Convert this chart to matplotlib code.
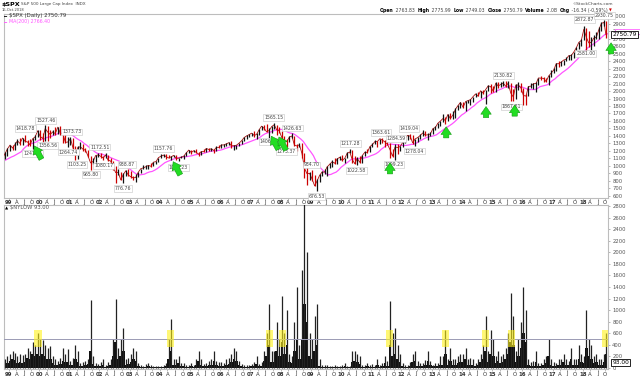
import numpy as np
import pandas as pd
import matplotlib
matplotlib.use("Agg")
import matplotlib.pyplot as plt
import matplotlib.dates as mdates
from matplotlib.patches import Rectangle

# ---------------- data ----------------
months = pd.date_range("1998-01-01", "2018-10-01", freq="MS")

spx_high = [992, 1050, 1105, 1123, 1122, 1145, 1190, 1121, 1066, 1103, 1192, 1244,
            1280, 1283, 1316, 1362, 1375, 1376, 1419, 1353, 1361, 1373, 1410, 1474,
            1479, 1445, 1553, 1528, 1481, 1475, 1517, 1525, 1530, 1437, 1437, 1390,
            1384, 1377, 1263, 1269, 1316, 1287, 1236, 1217, 1134, 1110, 1145, 1174,
            1176, 1131, 1173, 1147, 1107, 1070, 994, 966, 924, 907, 943, 954,
            935, 864, 895, 924, 965, 1015, 1015, 1011, 1040, 1053, 1064, 1112,
            1158, 1158, 1163, 1150, 1128, 1147, 1141, 1109, 1131, 1143, 1188, 1218,
            1218, 1212, 1229, 1192, 1199, 1220, 1246, 1245, 1243, 1233, 1270, 1276,
            1295, 1297, 1310, 1318, 1327, 1284, 1283, 1306, 1340, 1389, 1407, 1432,
            1441, 1462, 1438, 1498, 1535, 1540, 1556, 1504, 1538, 1576, 1545, 1524,
            1471, 1396, 1359, 1397, 1440, 1404, 1292, 1313, 1303, 1167, 1007, 919,
            944, 876, 832, 888, 930, 957, 996, 1039, 1080, 1101, 1113, 1130,
            1150, 1112, 1180, 1220, 1209, 1132, 1120, 1130, 1148, 1196, 1228, 1263,
            1303, 1344, 1332, 1364, 1371, 1346, 1357, 1307, 1230, 1293, 1292, 1270,
            1333, 1378, 1419, 1422, 1415, 1363, 1392, 1426, 1475, 1470, 1434, 1448,
            1504, 1530, 1570, 1598, 1687, 1654, 1698, 1709, 1730, 1768, 1814, 1849,
            1851, 1867, 1884, 1897, 1925, 1968, 1992, 2005, 2019, 2019, 2076, 2093,
            2072, 2120, 2118, 2126, 2135, 2130, 2133, 2113, 2021, 2094, 2117, 2104,
            2038, 1962, 2072, 2111, 2103, 2120, 2178, 2194, 2187, 2169, 2214, 2278,
            2301, 2371, 2401, 2398, 2418, 2454, 2484, 2491, 2520, 2582, 2657, 2695,
            2873, 2836, 2801, 2718, 2742, 2791, 2848, 2917, 2941, 2940]
spx_low = [912, 969, 1032, 1076, 1074, 1074, 1114, 940, 939, 923, 1093, 1137,
           1205, 1212, 1218, 1282, 1281, 1280, 1325, 1268, 1263, 1233, 1343, 1387,
           1350, 1325, 1339, 1339, 1373, 1415, 1416, 1431, 1419, 1306, 1307, 1254,
           1275, 1228, 1081, 1091, 1232, 1203, 1183, 1124, 945, 1026, 1054, 1114,
           1101, 1074, 1106, 1064, 1048, 952, 776, 875, 815, 769, 872, 872,
           840, 807, 789, 847, 902, 962, 962, 960, 990, 996, 1031, 1053,
           1108, 1124, 1087, 1107, 1076, 1114, 1079, 1060, 1101, 1091, 1127, 1173,
           1163, 1180, 1176, 1137, 1146, 1188, 1183, 1201, 1205, 1168, 1202, 1246,
           1245, 1253, 1268, 1280, 1245, 1219, 1224, 1262, 1290, 1327, 1360, 1385,
           1403, 1389, 1364, 1416, 1476, 1484, 1452, 1371, 1439, 1489, 1407, 1435,
           1271, 1317, 1257, 1324, 1373, 1272, 1200, 1247, 1107, 840, 741, 818,
           805, 735, 667, 784, 866, 888, 869, 979, 992, 1020, 1029, 1086,
           1071, 1045, 1102, 1171, 1040, 1028, 1011, 1040, 1040, 1132, 1173, 1187,
           1257, 1290, 1249, 1295, 1311, 1259, 1282, 1101, 1114, 1075, 1159, 1202,
           1258, 1311, 1341, 1358, 1292, 1267, 1325, 1354, 1397, 1403, 1343, 1398,
           1426, 1485, 1501, 1536, 1581, 1560, 1604, 1627, 1633, 1646, 1746, 1768,
           1770, 1738, 1834, 1815, 1860, 1915, 1930, 1905, 1964, 1821, 2001, 1973,
           1988, 1981, 2039, 2048, 2067, 2056, 2044, 1867, 1871, 1893, 2019, 1993,
           1812, 1810, 1937, 2034, 2025, 1992, 2075, 2148, 2119, 2114, 2084, 2187,
           2245, 2271, 2323, 2328, 2353, 2406, 2407, 2417, 2446, 2520, 2557, 2605,
           2682, 2533, 2586, 2553, 2594, 2698, 2698, 2796, 2864, 2710]
spx_close = [980, 1049, 1101, 1111, 1090, 1133, 1120, 957, 1017, 1098, 1163, 1229,
             1279, 1238, 1286, 1335, 1301, 1373, 1329, 1320, 1283, 1362, 1389, 1469,
             1394, 1366, 1499, 1452, 1421, 1455, 1431, 1518, 1437, 1429, 1315, 1320,
             1366, 1240, 1160, 1249, 1256, 1224, 1211, 1134, 1041, 1060, 1139, 1148,
             1130, 1107, 1147, 1077, 1067, 990, 912, 916, 815, 886, 936, 880,
             856, 841, 848, 917, 964, 975, 990, 1008, 996, 1051, 1058, 1112,
             1131, 1145, 1126, 1107, 1121, 1141, 1102, 1104, 1115, 1130, 1174, 1212,
             1181, 1204, 1181, 1157, 1192, 1191, 1234, 1220, 1229, 1207, 1249, 1248,
             1280, 1281, 1295, 1311, 1270, 1270, 1277, 1304, 1336, 1378, 1401, 1418,
             1438, 1407, 1421, 1482, 1531, 1503, 1455, 1474, 1527, 1549, 1481, 1468,
             1379, 1331, 1323, 1386, 1400, 1280, 1267, 1283, 1165, 969, 896, 903,
             826, 735, 798, 873, 919, 919, 987, 1021, 1057, 1036, 1096, 1115,
             1074, 1104, 1169, 1187, 1089, 1031, 1102, 1049, 1141, 1183, 1181, 1258,
             1286, 1327, 1326, 1364, 1345, 1321, 1292, 1219, 1131, 1253, 1247, 1258,
             1312, 1366, 1408, 1398, 1310, 1362, 1379, 1407, 1441, 1412, 1416, 1426,
             1498, 1515, 1569, 1598, 1631, 1606, 1686, 1633, 1682, 1757, 1806, 1848,
             1783, 1859, 1872, 1884, 1924, 1960, 1931, 2003, 1972, 2018, 2068, 2059,
             1995, 2104, 2068, 2086, 2107, 2063, 2104, 1972, 1920, 2079, 2080, 2044,
             1940, 1932, 2060, 2065, 2097, 2099, 2174, 2171, 2168, 2126, 2199, 2239,
             2279, 2364, 2363, 2384, 2412, 2423, 2470, 2472, 2519, 2575, 2648, 2674,
             2824, 2714, 2641, 2648, 2705, 2718, 2816, 2902, 2914, 2751]

# swing labels (closing values)
label_dates = ["1999-07-16", "1999-10-15", "2000-03-24", "2000-04-14", "2001-01-30",
               "2000-12-20", "2001-04-04", "2002-01-04", "2001-09-21", "2002-02-21",
               "2002-12-02", "2002-10-09", "2004-02-11", "2004-08-12", "2007-10-09",
               "2007-08-15", "2008-05-19", "2008-03-10", "2009-01-06", "2009-03-09",
               "2010-04-23", "2010-07-02", "2011-04-29", "2011-10-27", "2011-10-03",
               "2012-04-02", "2012-06-04", "2015-05-21", "2015-08-25", "2018-01-26",
               "2018-02-08", "2018-09-20"]
label_values = [1418.78, 1247.41, 1527.46, 1356.56, 1373.73,
                1264.74, 1103.25, 1172.51, 965.80, 1080.17,
                938.87, 776.76, 1157.76, 1063.23, 1565.15,
                1406.70, 1426.63, 1273.37, 934.70, 676.53,
                1217.28, 1022.58, 1363.61, 1284.59, 1099.23,
                1419.04, 1278.04, 2130.82, 1867.61, 2872.87,
                2581.00, 2930.75]
label_is_high = [1, 0, 1, 0, 1,
                 0, 0, 1, 0, 0,
                 1, 0, 1, 0, 1,
                 0, 1, 0, 1, 0,
                 1, 0, 1, 1, 0,
                 1, 0, 1, 0, 1,
                 0, 1]

# green signal arrows (date, price the arrow points at)
arrow_dates = ["1999-10-20", "2004-05-25", "2007-08-25", "2007-11-25", "2011-08-15",
               "2013-06-25", "2014-10-20", "2015-10-01", "2018-12-10"]
arrow_prices = [1300, 1090, 1430, 1420, 1080, 1560, 1830, 1850, 2680]

# NYSE new 52-week lows, monthly typical level and monthly peak
nylow_months = pd.date_range("1998-11-01", "2018-10-01", freq="MS")
nylow_base = [60, 80,
              120, 150, 140, 90, 100, 90, 100, 180, 150, 250, 200, 250,
              200, 250, 200, 150, 150, 80, 60, 50, 70, 120, 100, 110,
              50, 60, 150, 100, 30, 40, 50, 70, 300, 70, 30, 30,
              40, 60, 20, 40, 60, 200, 450, 150, 200, 300, 50, 70,
              100, 160, 120, 30, 20, 15, 25, 30, 20, 15, 15, 10,
              15, 20, 30, 150, 300, 60, 60, 80, 30, 30, 20, 20,
              30, 20, 60, 120, 60, 30, 30, 50, 60, 120, 50, 40,
              40, 30, 60, 70, 100, 150, 120, 50, 30, 20, 20, 20,
              30, 30, 70, 30, 40, 120, 200, 400, 100, 100, 300, 200,
              450, 250, 400, 100, 80, 300, 500, 150, 500, 1100, 800, 200,
              150, 300, 400, 40, 20, 20, 20, 15, 10, 20, 15, 15,
              20, 30, 10, 10, 100, 120, 100, 70, 20, 15, 30, 20,
              25, 20, 50, 20, 30, 80, 40, 400, 200, 250, 150, 100,
              30, 20, 20, 40, 100, 120, 40, 30, 30, 50, 120, 50,
              30, 30, 30, 60, 60, 250, 50, 120, 60, 50, 80, 100,
              100, 150, 50, 60, 60, 30, 60, 100, 150, 300, 100, 250,
              200, 80, 120, 80, 100, 150, 250, 450, 400, 100, 200, 350,
              600, 450, 50, 30, 40, 100, 30, 30, 50, 80, 200, 60,
              40, 30, 60, 50, 100, 60, 50, 150, 60, 60, 150, 100,
              80, 350, 200, 150, 80, 100, 60, 60, 100, 250]
nylow_peak = [150, 200,
              250, 300, 260, 200, 250, 220, 250, 350, 300, 450, 400, 600,
              500, 480, 400, 350, 380, 200, 150, 120, 170, 350, 250, 320,
              120, 180, 400, 300, 80, 100, 120, 160, 1170, 200, 80, 70,
              100, 150, 60, 100, 150, 500, 1200, 350, 500, 700, 150, 170,
              250, 350, 300, 80, 50, 40, 70, 80, 50, 40, 40, 30,
              40, 50, 80, 500, 850, 150, 150, 200, 80, 80, 50, 50,
              80, 60, 150, 300, 150, 70, 80, 120, 150, 300, 120, 100,
              100, 80, 150, 180, 250, 350, 300, 120, 70, 50, 50, 50,
              70, 100, 200, 70, 100, 300, 600, 1100, 300, 300, 800, 500,
              1250, 600, 1000, 250, 200, 800, 1400, 400, 1700, 2950, 2000, 600,
              500, 900, 1100, 150, 60, 60, 60, 40, 30, 50, 40, 40,
              60, 80, 30, 30, 300, 300, 250, 200, 60, 50, 80, 60,
              70, 60, 150, 50, 80, 200, 120, 1150, 600, 700, 400, 250,
              80, 60, 50, 100, 250, 300, 120, 80, 80, 130, 300, 120,
              60, 80, 80, 200, 200, 650, 150, 350, 150, 150, 200, 250,
              250, 350, 150, 180, 150, 80, 150, 250, 400, 900, 300, 650,
              500, 200, 300, 200, 250, 350, 600, 1300, 900, 300, 500, 800,
              1400, 1000, 150, 100, 120, 300, 80, 80, 150, 200, 500, 150,
              100, 80, 150, 150, 250, 150, 120, 350, 150, 150, 400, 250,
              200, 1000, 500, 400, 200, 250, 150, 150, 250, 600]
nylow_last = 93.00
nylow_threshold = 500

# highlighted new-low episodes
box_dates = ["1999-12-20", "2004-05-10", "2007-08-16", "2008-01-22", "2011-08-08",
             "2013-06-20", "2014-10-15", "2015-08-24", "2018-10-11"]

x_tick_dates = pd.date_range("1999-01-01", "2018-10-01", freq="QS")
price_ticks = list(range(600, 3001, 100))
nylow_ticks = list(range(0, 2801, 200))

last_close = 2750.79
last_ma = 2766.40

# ---------------- figure ----------------
W, H = 640, 380
fig = plt.figure(figsize=(6.4, 3.8), dpi=100)
fig.patch.set_facecolor("white")

def fx(px):
    return px / W

def fy(py):
    return 1 - py / H

ax1 = fig.add_axes([fx(4), fy(198), fx(604), 184 / H])
ax2 = fig.add_axes([fx(4), fy(369), fx(604), 164 / H])

xmin = pd.Timestamp("1998-11-03")
xmax = pd.Timestamp("2018-11-03")

grey = "#bdbdbd"
for ax in (ax1, ax2):
    ax.set_xlim(xmin, xmax)
    for s in ax.spines.values():
        s.set_color(grey)
        s.set_linewidth(0.8)
    ax.yaxis.tick_right()
    ax.tick_params(axis="y", length=1.5, width=0.5, colors="#999999",
                   labelsize=3.8, pad=1.5, labelcolor="#555555")
    ax.tick_params(axis="x", length=1.2, width=0.5, colors="#999999",
                   labelsize=3.9, pad=0.6, labelcolor="#333333")
    ax.set_xticks(x_tick_dates)
    labs = []
    for d in x_tick_dates:
        if d.month == 1:
            labs.append(d.strftime("%y"))
        else:
            labs.append({4: "A", 7: "J", 10: "O"}[d.month])
    ax.set_xticklabels(labs)
    for t, d in zip(ax.get_xticklabels(), x_tick_dates):
        if d.month == 1:
            t.set_fontweight("bold")

# ---- price panel ----
mid = months + pd.Timedelta(days=14)
mid = mid.where(months != months[-1], months[-1] + pd.Timedelta(days=8))
close = np.array(spx_close, dtype=float)
up = np.r_[True, np.diff(close) >= 0]
cols = np.where(up, "#111111", "#cc0000")
ax1.plot(mid, close, color="#aa1111", lw=0.6, zorder=3)
ax1.vlines(mid, spx_low, spx_high, colors=cols, lw=0.9, zorder=4)
ma = pd.Series(close).rolling(10).mean()
ax1.plot(months + pd.offsets.MonthEnd(0), ma, color="#ff55ff", lw=0.9, zorder=2)

ax1.set_ylim(573.3, 3026.7)
ax1.set_yticks(price_ticks)
ax1.set_yticklabels([str(v) for v in price_ticks])

for d, v, hi in zip(label_dates, label_values, label_is_high):
    ax1.annotate(f"{v:.2f}", (pd.Timestamp(d), v), xytext=(0, 2.5 if hi else -2.5),
                 textcoords="offset points", ha="center",
                 va="bottom" if hi else "top", fontsize=3.3, color="#444444",
                 bbox=dict(boxstyle="square,pad=0.18", fc="white", ec="#c4c4c4", lw=0.4),
                 zorder=6)

tilted = [True, True, True, True, False, False, False, False, False]
for d, p, t in zip(arrow_dates, arrow_prices, tilted):
    off = (7, -13) if t else (0, -12)
    ax1.annotate("", (pd.Timestamp(d), p), xytext=off, textcoords="offset points",
                 arrowprops=dict(arrowstyle="simple,head_length=0.55,head_width=0.75,tail_width=0.38",
                                 fc="#22dd22", ec="#119911", lw=0.4),
                 zorder=7, annotation_clip=False)

# last value boxes (MA box drawn as an outline behind the price box)
ytr = ax1.get_yaxis_transform()
ax1.add_patch(Rectangle((1.012, last_ma - 10), 0.042, 70, transform=ytr,
                        fc="white", ec="#ff66ff", lw=0.6, zorder=8, clip_on=False))
ax1.text(1.007, last_close, f"{last_close:.2f}", transform=ytr,
         fontsize=4.2, va="center", ha="left", color="black", zorder=9, clip_on=False,
         bbox=dict(boxstyle="square,pad=0.2", fc="white", ec="black", lw=0.6))

# ---- new lows panel ----
nmid = nylow_months + pd.Timedelta(days=14)
ax2.fill_between(nmid, 0, nylow_base, step="mid", color="#111111", lw=0, zorder=2)
ax2.vlines(nmid, 0, nylow_peak, colors="#222222", lw=0.9, zorder=3)
ax2.axhline(nylow_threshold, color="#9a9ab4", lw=0.7, zorder=4)
for d in box_dates:
    c = pd.Timestamp(d)
    x0 = mdates.date2num(c - pd.Timedelta(days=45))
    x1 = mdates.date2num(c + pd.Timedelta(days=45))
    ax2.add_patch(Rectangle((x0, 360), x1 - x0, 300, fc=(1, 0.95, 0.1, 0.6),
                            ec="none", zorder=5))
ax2.set_ylim(-17, 2817)
ax2.set_yticks(nylow_ticks)
ax2.set_yticklabels([str(v) for v in nylow_ticks])
ax2.text(1.007, nylow_last, f"{nylow_last:.2f}", transform=ax2.get_yaxis_transform(),
         fontsize=4.2, va="center", ha="left", color="black", zorder=9, clip_on=False,
         bbox=dict(boxstyle="square,pad=0.2", fc="white", ec="black", lw=0.6))

# ---- header texts ----
fig.text(fx(2), fy(4.5), "$SPX", fontsize=4.6, fontweight="bold", va="center", ha="left")
fig.text(fx(21), fy(4.5), "S&P 500 Large Cap Index  INDX", fontsize=3.0, va="center",
         ha="left", color="#444444")
fig.text(fx(2), fy(10), "16-Oct-2018", fontsize=2.6, va="center", ha="left", color="#444444")
fig.text(fx(4), fy(16), "━", fontsize=3.6, va="center", ha="left", color="black")
fig.text(fx(9), fy(16), "$SPX (Daily) 2750.79", fontsize=3.9, va="center", ha="left",
         color="#333333")
fig.text(fx(4), fy(22), "━", fontsize=3.6, va="center", ha="left", color="#ff55ff")
fig.text(fx(9), fy(22), "MA(200) 2766.40", fontsize=3.4, va="center", ha="left",
         color="#ff55ff")
fig.text(fx(613), fy(4), "©StockCharts.com", fontsize=3.1, va="center", ha="right",
         color="#444444")

# quote line built right-to-left
renderer = fig.canvas.get_renderer()
parts = [("Open", True), (" 2763.83  ", False), ("High", True), (" 2775.99  ", False),
         ("Low", True), (" 2749.03  ", False), ("Close", True), (" 2750.79  ", False),
         ("Volume", True), (" 2.0B  ", False), ("Chg", True), (" -16.34 (-0.59%) ", False),
         ("▼", False)]
xcur = 612
for txt, bold in reversed(parts):
    col = "#cc0000" if txt == "▼" else ("black" if bold else "#444444")
    t = fig.text(fx(xcur), fy(10.5), txt, fontsize=3.3 if txt != "▼" else 2.6,
                 fontweight="bold" if bold else "normal", va="center", ha="right", color=col)
    bb = t.get_window_extent(renderer=renderer)
    xcur -= bb.width

fig.text(fx(5), fy(208), "▲", fontsize=3.0, va="center", ha="left", color="black")
fig.text(fx(10), fy(208), "$NYLOW 93.00", fontsize=3.8, va="center", ha="left",
         color="#555555")

fig.savefig("out.png", dpi=100, facecolor="white")
